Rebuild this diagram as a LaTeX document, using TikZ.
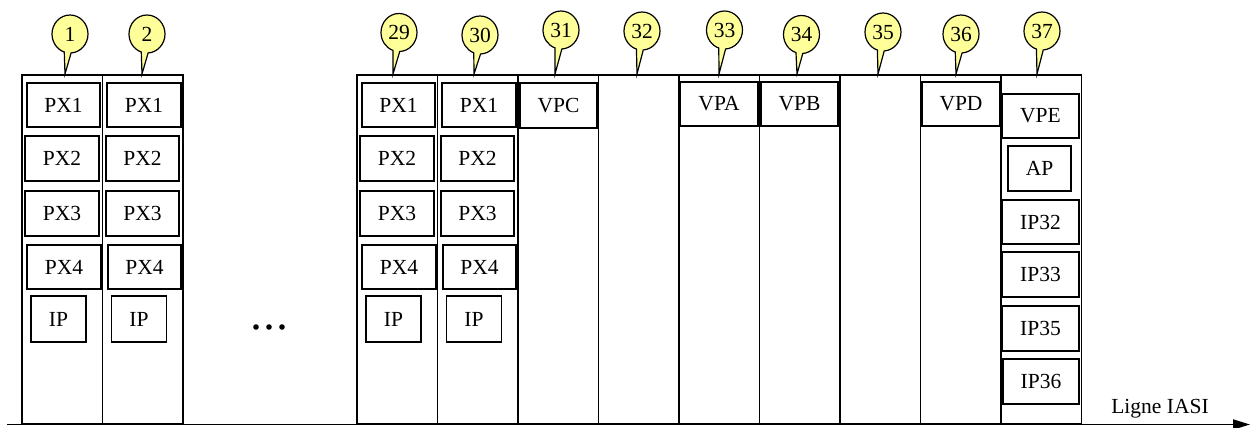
\documentclass[tikz,border=0pt]{standalone}
\usepackage{fontspec}
\setmainfont{Liberation Serif}
\usetikzlibrary{shapes.callouts,arrows.meta}
\definecolor{calloutyellow}{RGB}{255,255,153}
\begin{document}
\begin{tikzpicture}[x=1pt,y=-1pt,
  every node/.style={font=\fontsize{21.5}{24}\selectfont},
  colbox/.style={draw,line width=1.8pt,minimum width=80.5pt,minimum height=349pt,inner sep=0pt,anchor=north west},
  itembox/.style={draw,line width=1.6pt,minimum width=73.5pt,minimum height=44.5pt,inner sep=0pt},
  ipbox/.style={draw,line width=1.6pt,minimum width=55pt,minimum height=46pt,inner sep=0pt},
  bubble/.style={ellipse callout,draw,line width=1.2pt,fill=calloutyellow,minimum width=36pt,minimum height=38pt,inner sep=0pt,callout pointer arc=22}
]
\useasboundingbox (0,0) rectangle (1251,428);

% columns
\foreach \n/\L in {1/21,2/101.5,29/356,30/436.5,31/517,32/597.5,33/678,34/758.5,35/839,36/919.5,37/1000}{
  \node[colbox] (col\n) at (\L,74) {};
}

% PX / IP boxes in columns 1, 2, 29, 30
\foreach \n/\L in {1/21,2/101.5,29/356,30/436.5}{
  \node[itembox] (px1-\n) at (\L+42.5,105) {PX1};
  \node[itembox] (px2-\n) at (\L+41,158.5) {PX2};
  \node[itembox] (px3-\n) at (\L+41,213.5) {PX3};
  \node[itembox] (px4-\n) at (\L+43,267) {PX4};
  \node[ipbox] (ip-\n) at (\L+37.5,319) {IP};
}

% other boxes
\node[itembox,minimum width=77pt] (vpc) at (558.5,105.5) {VPC};
\node[itembox,minimum width=78pt] (vpa) at (719,104) {VPA};
\node[itembox,minimum width=77pt] (vpb) at (799.5,104) {VPB};
\node[itembox,minimum width=78pt] (vpd) at (961,104) {VPD};
\node[itembox,minimum width=77pt] (vpe) at (1040.5,116) {VPE};
\node[itembox,minimum width=63pt,minimum height=45pt] (ap) at (1039.5,168.5) {AP};
\node[itembox,minimum width=77pt] (ip32) at (1040.5,222) {IP32};
\node[itembox,minimum width=77pt] (ip33) at (1040.5,274.5) {IP33};
\node[itembox,minimum width=77pt] (ip35) at (1040.5,328.5) {IP35};
\node[itembox,minimum width=76pt] (ip36) at (1041,381.5) {IP36};

% ellipsis dots
\fill (256,327) circle (2.8pt) (269,327) circle (2.8pt) (282,327) circle (2.8pt);

% callouts
\foreach \n/\cx/\cy/\px in {1/70/34/65,2/147/34/142,29/399/32.5/393,30/480/35/474,31/561/30/555,32/642/31/637,33/724.5/30/719,34/801.5/34.5/797,35/883/32/878,36/961/34/956,37/1042/31/1037}{
  \coordinate (p\n) at (\px,74);
  \node[bubble,callout absolute pointer=(p\n)] (c\n) at (\cx,\cy) {\n};
}

% axis
\coordinate (axs) at (7,424.5);
\coordinate (axe) at (1250,424.5);
\draw[line width=1.8pt,-{Triangle[length=17pt,width=10pt]}] (axs) -- (axe);
\node[anchor=base] (lbl) at (1160,413) {Ligne IASI};
\end{tikzpicture}
\end{document}
